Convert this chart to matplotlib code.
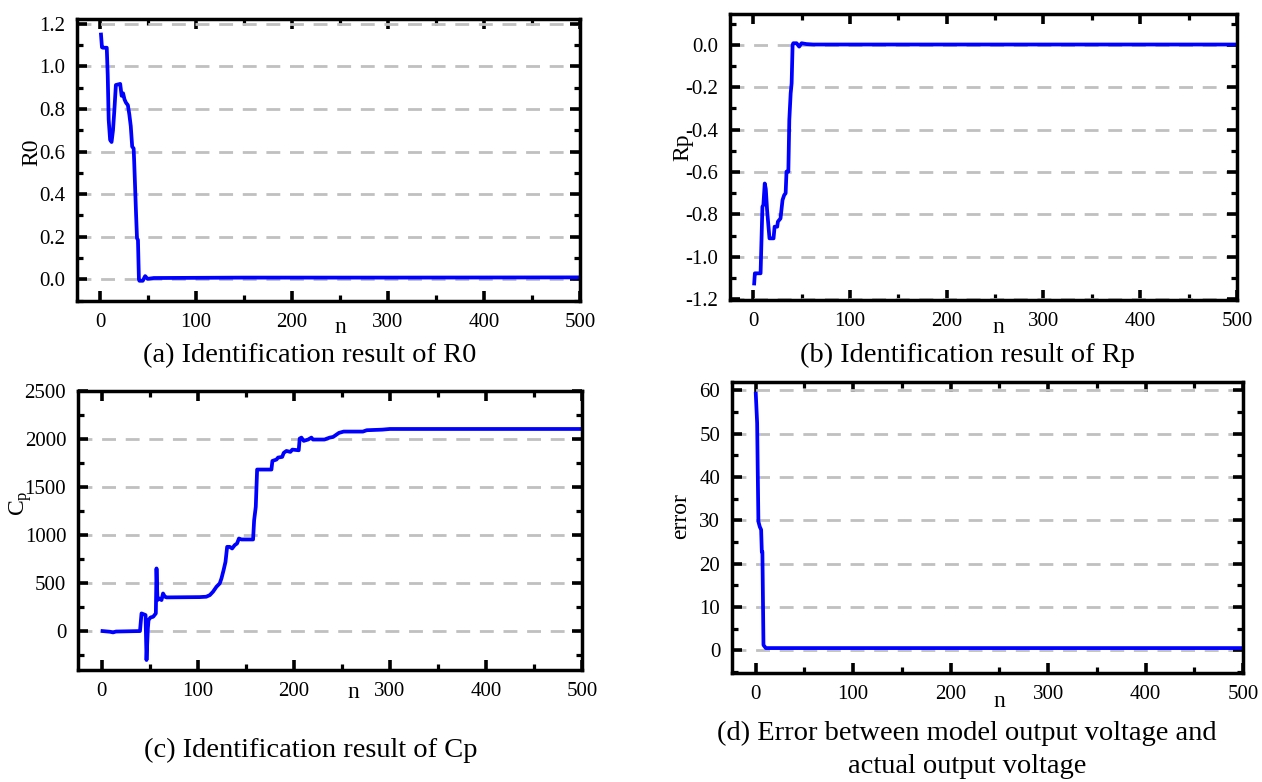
import numpy as np
import matplotlib.pyplot as plt
from matplotlib.ticker import MultipleLocator, FormatStrFormatter

plt.rcParams['font.family'] = ['Liberation Serif', 'DejaVu Serif']
plt.rcParams['mathtext.default'] = 'regular'
plt.rcParams['axes.unicode_minus'] = False

# --- data ---

r0_n = [1, 2, 3, 7, 8, 9, 10.5, 12, 13.5, 15, 16.5, 21, 22.5, 24, 25.5, 27, 29,
        30.5, 32, 33.5, 35, 35.6, 37.5, 38.5, 39.5, 40.5, 41, 44.5, 47, 49.5,
        56, 150, 300, 500]
r0_v = [1.15, 1.09, 1.088, 1.088, 0.96, 0.75, 0.655, 0.645, 0.70, 0.80, 0.913,
        0.918, 0.862, 0.874, 0.845, 0.83, 0.818, 0.775, 0.72, 0.623, 0.615,
        0.55, 0.31, 0.193, 0.185, 0.0, -0.007, -0.007, 0.015, 0.002,
        0.006, 0.008, 0.008, 0.009]

rp_n = [1, 1.7, 3.4, 7.6, 9.5, 10.5, 11.9, 13, 14.3, 16.8, 21, 22.1, 24.8,
        25.5, 28.2, 30.3, 32, 33.5, 34.4, 36.3, 37.3, 38.7, 39.7, 40.7, 41.4,
        44.8, 47.5, 50, 55, 62, 500]
rp_v = [-1.126, -1.078, -1.078, -1.078, -0.764, -0.755, -0.654, -0.68, -0.777,
        -0.913, -0.913, -0.858, -0.858, -0.834, -0.819, -0.732, -0.709, -0.70,
        -0.598, -0.598, -0.354, -0.228, -0.181, 0.0, 0.008, 0.008, -0.008,
        0.008, 0.004, 0.002, 0.002]

cp_n = [1, 8.7, 12, 15, 40, 41.6, 45.8, 46.8, 48.2, 48.9, 51, 53.7, 56.5, 57.2,
        58.2, 60, 62.4, 64, 65.9, 67.6, 102, 109, 112.7, 116, 119.6, 123, 124.8,
        127, 129, 130.7, 133.4, 135.9, 138.6, 141, 143, 145.6, 157.7, 158.8,
        160.5, 161.9, 176.8, 177.8, 182, 183.7, 188, 189.6, 192.4, 196.5, 198.6,
        205.2, 206.2, 208, 210.4, 215, 218.4, 220, 232, 237.4, 241, 247, 252,
        272, 276, 292, 300, 500]
cp_v = [0, -7, -14, -5, 0, 184, 167, -302, 28, 115, 142, 149, 184, 653,
        323, 340, 323, 392, 358, 351, 354, 358, 375, 410, 462, 497, 549,
        635, 722, 878, 878, 861, 896, 913, 965, 955, 955, 1156,
        1295, 1684, 1684, 1774, 1788, 1809, 1816, 1858, 1878, 1868, 1892,
        1885, 2007, 2017, 1983, 1997, 2017, 1997, 1997, 2017, 2024, 2066, 2080,
        2080, 2094, 2100, 2107, 2107]

err_n = [0, 1.4, 2, 2.7, 4.1, 5.5, 6.2, 6.8, 7.9, 10.3, 500]
err_v = [59.2, 52.4, 41.6, 29.7, 28.5, 27.8, 22.7, 22.7, 1.2, 0.5, 0.5]

W, H = 1262, 782
fig = plt.figure(figsize=(W / 100, H / 100), dpi=100)


def make_axes(left, top, right, bottom):
    return fig.add_axes([left / W, 1 - bottom / H, (right - left) / W, (bottom - top) / H])


def style(ax, xlim, ylim, ymajor, yminor, yfmt):
    ax.set_xlim(*xlim)
    ax.set_ylim(*ylim)
    ax.xaxis.set_major_locator(MultipleLocator(100))
    ax.xaxis.set_minor_locator(MultipleLocator(50))
    ax.yaxis.set_major_locator(MultipleLocator(ymajor))
    ax.yaxis.set_minor_locator(MultipleLocator(yminor))
    ax.yaxis.set_major_formatter(FormatStrFormatter(yfmt))
    ax.tick_params(which='both', direction='in', top=True, right=True)
    ax.tick_params(which='major', length=7.5, width=2.6, labelsize=15, pad=8.5)
    ax.tick_params(which='minor', length=4, width=2.3)
    for s in ax.spines.values():
        s.set_linewidth(2.5)
    ax.grid(axis='y', which='major', color='#c0c0c0', lw=2, ls=(0, (5, 3.5)))
    ax.set_axisbelow(True)


blue = '#0000ff'
lw = 2.7

# (a)
ax = make_axes(77, 19, 580, 301)
ax.plot(r0_n, r0_v, color=blue, lw=lw)
style(ax, (-24, 500), (-0.102, 1.223), 0.2, 0.1, '%.1f')
ax.set_ylabel('R0', fontsize=17, va='baseline')
ax.yaxis.set_label_coords(-0.0795, 0.527)
ax.set_xlabel('n', fontsize=17, va='baseline')
ax.xaxis.set_label_coords((250 + 24) / 524, -0.113)

# (b)
ax = make_axes(730, 14, 1237, 300)
ax.plot(rp_n, rp_v, color=blue, lw=lw)
style(ax, (-24, 500), (-1.204, 0.146), 0.2, 0.1, '%.1f')
ax.set_ylabel('Rp', fontsize=17, va='baseline')
ax.yaxis.set_label_coords(-0.083, 0.533)
ax.set_xlabel('n', fontsize=17, va='baseline')
ax.xaxis.set_label_coords((253 + 24) / 524, -0.115)

# (c)
ax = make_axes(78, 391, 582, 670)
ax.plot(cp_n, cp_v, color=blue, lw=lw)
style(ax, (-24.5, 500), (-406, 2503), 500, 250, '%d')
ax.set_ylabel(r'$\mathregular{C_p}$', fontsize=17, va='baseline')
ax.yaxis.set_label_coords(-0.105, 0.599)
ax.set_xlabel('n', fontsize=17, va='baseline')
ax.xaxis.set_label_coords((262 + 24.5) / 524.5, -0.1)

# (d)
ax = make_axes(732, 382, 1243, 673)
ax.plot(err_n, err_v, color=blue, lw=lw)
style(ax, (-24.4, 500), (-5.25, 61.9), 10, 5, '%d')
ax.set_ylabel('error', fontsize=17, va='baseline')
ax.yaxis.set_label_coords(-0.09, 0.54)
ax.set_xlabel('n', fontsize=17, va='baseline')
ax.xaxis.set_label_coords((250 + 24.4) / 524.4, -0.117)

# captions
cap = dict(fontsize=20.5, ha='center', va='baseline')
fig.text(310 / W, 1 - 362 / H, '(a) Identification result of R0', **cap)
fig.text(967 / W, 1 - 362 / H, '(b) Identification result of Rp', **cap)
fig.text(311 / W, 1 - 757 / H, '(c) Identification result of Cp', **cap)
fig.text(967 / W, 1 - 773 / H,
         '(d) Error between model output voltage and\nactual output voltage',
         linespacing=1.4, **cap)

fig.savefig('out.png', dpi=100)
